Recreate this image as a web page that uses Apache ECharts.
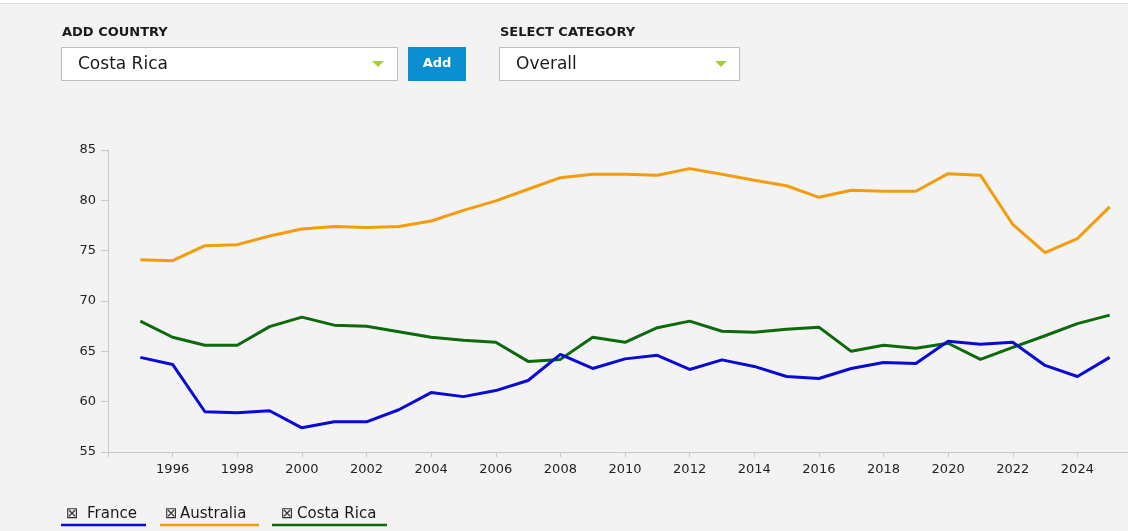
<!DOCTYPE html>
<html>
<head>
<meta charset="utf-8">
<script src="https://cdn.jsdelivr.net/npm/echarts@6/dist/echarts.min.js"></script>
<style>
html,body{margin:0;padding:0;background:#f3f3f3;}
#chart{width:1128px;height:531px;}
</style>
</head>
<body>
<div id="chart"></div>
<script>
const years = [1995,1996,1997,1998,1999,2000,2001,2002,2003,2004,2005,2006,2007,2008,2009,2010,2011,2012,2013,2014,2015,2016,2017,2018,2019,2020,2021,2022,2023,2024,2025];
const france = [64.4,63.7,59.0,58.9,59.1,57.4,58.0,58.0,59.2,60.9,60.5,61.1,62.1,64.7,63.3,64.25,64.6,63.2,64.15,63.5,62.5,62.3,63.3,63.9,63.8,66.0,65.7,65.9,63.6,62.5,64.4];
const australia = [74.1,74.0,75.5,75.6,76.45,77.15,77.4,77.3,77.4,77.95,79.0,79.95,81.1,82.25,82.6,82.6,82.5,83.15,82.6,82.0,81.45,80.3,81.0,80.9,80.9,82.65,82.5,77.6,74.8,76.2,79.35];
const costaRica = [68.0,66.4,65.6,65.6,67.45,68.4,67.6,67.5,66.95,66.4,66.1,65.9,64.0,64.2,66.4,65.9,67.35,68.0,67.0,66.9,67.2,67.4,65.0,65.6,65.3,65.8,64.2,65.4,66.55,67.75,68.6];
const seriesNames = ['France','Australia','Costa Rica'];
const seriesColors = ['#0a0ad2','#f39c0d','#0c6a0c'];
const controlLabels = ['ADD COUNTRY','SELECT CATEGORY'];
const controlValues = ['Costa Rica','Overall'];
const buttonLabel = 'Add';

const zip = arr => years.map((y,i)=>[y,arr[i]]);
const allData = [france, australia, costaRica];

const chart = echarts.init(document.getElementById('chart'));
const FONT = '"DejaVu Sans", Verdana, sans-serif';

const tri = (x,y) => ({type:'polygon', shape:{points:[[x,y],[x+12,y],[x+6,y+6]]}, style:{fill:'#a6ce39'}});
const txt = (x,y,t,font,fill,align) => ({type:'text', x:x, y:y, style:{text:t, font:font, fill:fill, align:align||'left', verticalAlign:'middle'}});

const legendPos = [{icon:66, text:87, x1:61, x2:146},{icon:165, text:180, x1:160, x2:259},{icon:281, text:297, x1:272, x2:387}];
const legendGraphics = [];
seriesNames.forEach((n,i)=>{
  const p = legendPos[i];
  legendGraphics.push(txt(p.icon, 514.5, '\u22A0', '15px ' + FONT, '#333'));
  legendGraphics.push(txt(p.text, 514.5, n, '15px ' + FONT, '#1a1a1a'));
  legendGraphics.push({type:'line', shape:{x1:p.x1,y1:525,x2:p.x2,y2:525}, style:{stroke:seriesColors[i], lineWidth:2.5}});
});

chart.setOption({
  backgroundColor:'#f3f3f3',
  animation:false,
  grid:{left:108, top:150, width:1034, bottom:79, outerBoundsMode:'none', containLabel:false},
  xAxis:{
    type:'value', min:1994, max:2026, interval:2,
    axisLine:{lineStyle:{color:'#c8c8c8'}},
    axisTick:{length:5, lineStyle:{color:'#c8c8c8'}},
    splitLine:{show:false},
    axisLabel:{color:'#222', fontSize:13, fontFamily:'DejaVu Sans', margin:11,
      formatter:v => (v===1994||v===2026)?'':String(v)}
  },
  yAxis:{
    type:'value', min:55, max:85, interval:5,
    axisLine:{show:true, lineStyle:{color:'#c8c8c8'}},
    axisTick:{show:true, length:7, lineStyle:{color:'#c8c8c8'}},
    splitLine:{show:false},
    axisLabel:{color:'#222', fontSize:13, fontFamily:'DejaVu Sans', margin:12}
  },
  series: seriesNames.map((n,i)=>({
    name:n, type:'line', data:zip(allData[i]), showSymbol:false, symbol:'none',
    lineStyle:{color:seriesColors[i], width:3}, itemStyle:{color:seriesColors[i]}, z: 3-i
  })),
  graphic:[
    {type:'rect', shape:{x:0,y:0,width:1128,height:3}, style:{fill:'#ffffff'}},
    {type:'line', shape:{x1:0,y1:3.5,x2:1128,y2:3.5}, style:{stroke:'#e0e0e0', lineWidth:1}},
    txt(62, 32.5, controlLabels[0], 'bold 13px ' + FONT, '#1a1a1a'),
    {type:'rect', shape:{x:61.5,y:47.5,width:336,height:33}, style:{fill:'#fff', stroke:'#bdbdbd', lineWidth:1}},
    txt(78, 64.5, controlValues[0], '17px ' + FONT, '#1a1a1a'),
    tri(372,61),
    {type:'rect', shape:{x:408,y:47,width:58,height:34}, style:{fill:'#0b8fd0'}},
    txt(437, 63.5, buttonLabel, 'bold 13px ' + FONT, '#ffffff', 'center'),
    txt(500, 32.5, controlLabels[1], 'bold 13px ' + FONT, '#1a1a1a'),
    {type:'rect', shape:{x:499.5,y:47.5,width:240,height:33}, style:{fill:'#fff', stroke:'#bdbdbd', lineWidth:1}},
    txt(516, 64.5, controlValues[1], '17px ' + FONT, '#1a1a1a'),
    tri(715,61),
    ...legendGraphics
  ]
});
</script>
</body>
</html>
